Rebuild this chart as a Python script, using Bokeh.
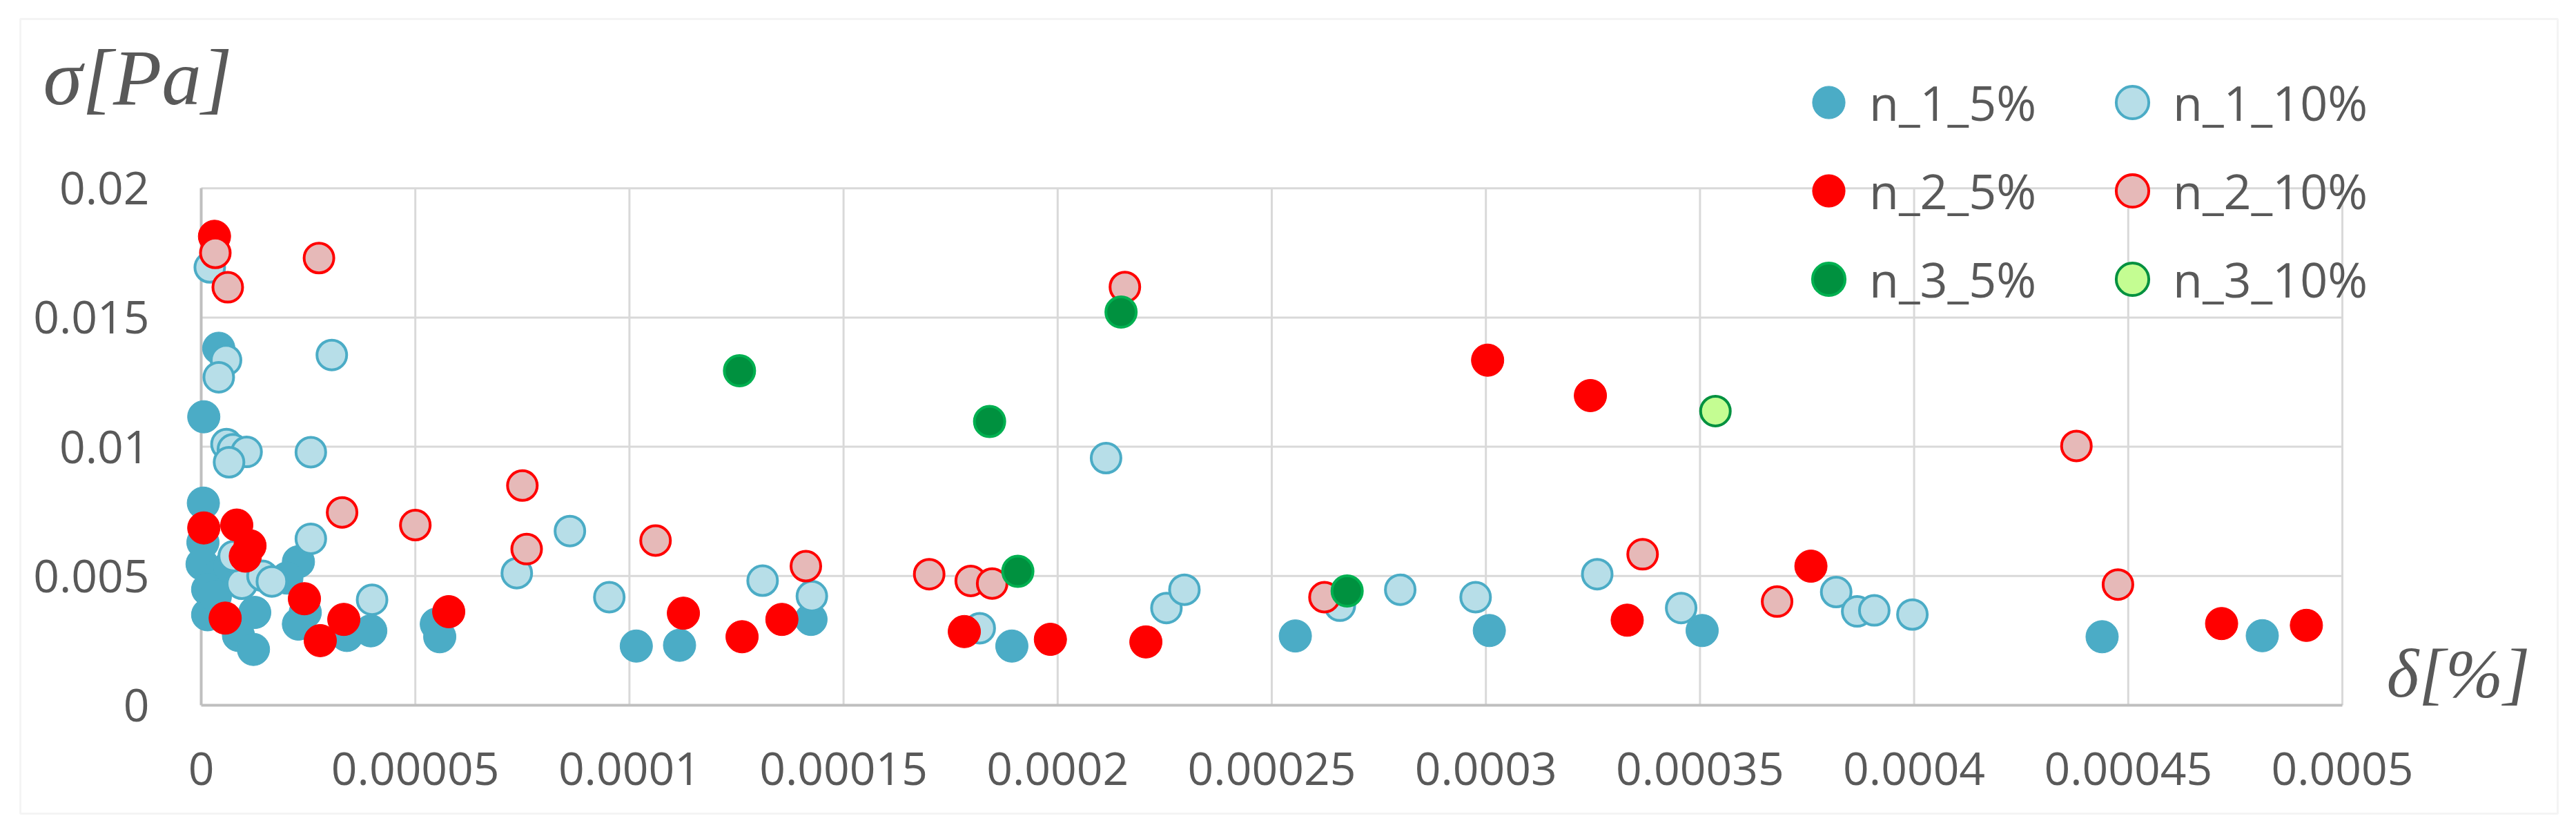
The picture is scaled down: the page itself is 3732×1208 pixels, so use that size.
from bokeh.plotting import figure
from bokeh.models import FixedTicker, Legend, LegendItem, Label, Range1d, BoxAnnotation
from bokeh.embed import file_html
from bokeh.resources import INLINE

# ---------------- data ----------------
x_ticks = [0, 0.00005, 0.0001, 0.00015, 0.0002, 0.00025, 0.0003, 0.00035, 0.0004, 0.00045, 0.0005]
x_tick_labels = ["0", "0.00005", "0.0001", "0.00015", "0.0002", "0.00025", "0.0003",
                 "0.00035", "0.0004", "0.00045", "0.0005"]
y_ticks = [0, 0.005, 0.01, 0.015, 0.02]
y_tick_labels = ["0", "0.005", "0.01", "0.015", "0.02"]

series_names = ["n_1_5%", "n_1_10%", "n_2_5%", "n_2_10%", "n_3_5%", "n_3_10%"]

n1_5_x = [0.0000005, 0.0000004, 0.0000002, 0.0000039, 0.0000015, 0.0000015, 0.0000033, 0.0000066,
          0.0000125, 0.0000087, 0.0000122, 0.0000227, 0.000020, 0.0000243, 0.0000227, 0.000034,
          0.0000396, 0.0000041, 0.0000006, 0.0000549, 0.0000557, 0.0001016, 0.0001117, 0.0001424,
          0.0001893, 0.0002555, 0.0003008, 0.0003505, 0.0004439, 0.0004813]
n1_5_y = [0.00782, 0.0063, 0.00546, 0.00501, 0.00448, 0.0035, 0.00421, 0.00537,
          0.00359, 0.0027, 0.00216, 0.00555, 0.00492, 0.00359, 0.00314, 0.0027,
          0.00288, 0.01381, 0.01116, 0.00314, 0.00265, 0.00229, 0.00232, 0.00332,
          0.00229, 0.00268, 0.00289, 0.00289, 0.00265, 0.00269]

n1_10_x = [0.000002, 0.0000058, 0.0000041, 0.0000305, 0.0000059, 0.0000074, 0.0000106, 0.0000065,
           0.0000256, 0.0000256, 0.0000095, 0.0000143, 0.0000165, 0.0000076, 0.0000399, 0.0000737,
           0.0000861, 0.0000953, 0.0001311, 0.0001426, 0.0001818, 0.0002113, 0.0002254, 0.0002296,
           0.0002659, 0.00028, 0.0002976, 0.000326, 0.0003456, 0.0003818, 0.0003867, 0.0003907,
           0.0003996]
n1_10_y = [0.01694, 0.01335, 0.01269, 0.01355, 0.0101, 0.0099, 0.0098, 0.0094,
           0.00979, 0.00644, 0.0047, 0.00501, 0.00479, 0.00577, 0.00408, 0.00511,
           0.00674, 0.00418, 0.00482, 0.00422, 0.00298, 0.00956, 0.00376, 0.00447,
           0.00385, 0.00447, 0.00418, 0.00507, 0.00376, 0.00438, 0.00363, 0.00367,
           0.00351]

n2_5_x = [0.0000031, 0.0000006, 0.0000083, 0.0000114, 0.0000103, 0.0000056, 0.0000241, 0.0000278,
          0.0000333, 0.0000578, 0.0001126, 0.0001263, 0.0001356, 0.0001782, 0.0001983, 0.0002206,
          0.0003004, 0.0003244, 0.000333, 0.0003759, 0.0004718, 0.0004916]
n2_5_y = [0.01814, 0.00686, 0.00697, 0.00617, 0.00577, 0.00337, 0.00412, 0.0025,
          0.00332, 0.00362, 0.00356, 0.00265, 0.00332, 0.00285, 0.00255, 0.00245,
          0.01335, 0.01198, 0.00329, 0.00538, 0.00316, 0.00309]

n2_10_x = [0.0000033, 0.0000062, 0.0000275, 0.0000329, 0.00005, 0.000075, 0.000076, 0.0001061,
           0.0001412, 0.00017, 0.0001797, 0.0001847, 0.0002157, 0.0002623, 0.0003366, 0.000368,
           0.0004379, 0.0004476]
n2_10_y = [0.0175, 0.01617, 0.0173, 0.00746, 0.00697, 0.0085, 0.00604, 0.00637,
           0.00538, 0.00507, 0.00481, 0.00471, 0.01618, 0.00418, 0.00584, 0.00401,
           0.01003, 0.00467]

n3_5_x = [0.0001257, 0.0001841, 0.0001907, 0.0002148, 0.0002676]
n3_5_y = [0.01294, 0.01098, 0.00518, 0.01521, 0.00442]

n3_10_x = [0.0003536]
n3_10_y = [0.01138]

# ---------------- layout constants (pixels -> data) ----------------
PX_X = 0.00005 / 310.2      # data units per pixel, x
PX_Y = 0.005 / 187.2        # data units per pixel, y
X0, Y0 = 291, 1021          # page position of the origin
OFF = 0                     # page position of the canvas
W, H = 3716, 1192

TEXT = "#595959"
FONT = "Open Sans"

p = figure(width=W, height=H,
           x_range=Range1d((OFF - X0) * PX_X, (OFF + W - X0) * PX_X),
           y_range=Range1d((Y0 - OFF - H) * PX_Y, (Y0 - OFF) * PX_Y),
           output_backend="svg", toolbar_location=None,
           min_border_left=0, min_border_right=0, min_border_top=0, min_border_bottom=0)
p.background_fill_color = "white"
p.border_fill_color = "white"
p.outline_line_color = None
p.xgrid.visible = False
p.ygrid.visible = False

# outer chart border
p.add_layout(BoxAnnotation(left=(29 - X0) * PX_X, right=(3705 - X0) * PX_X,
                           top=(Y0 - 27) * PX_Y, bottom=(Y0 - 1178) * PX_Y,
                           fill_alpha=0, line_color="#d9d9d9", line_width=3, level="underlay"))

# gridlines limited to the plotting box
x_lo, x_hi = x_ticks[0], x_ticks[-1]
y_lo, y_hi = y_ticks[0], y_ticks[-1]
p.segment(x0=x_ticks[1:], y0=[y_lo] * (len(x_ticks) - 1), x1=x_ticks[1:], y1=[y_hi] * (len(x_ticks) - 1),
          line_color="#d9d9d9", line_width=3, level="underlay")
p.segment(x0=[x_lo] * (len(y_ticks) - 1), y0=y_ticks[1:], x1=[x_hi] * (len(y_ticks) - 1), y1=y_ticks[1:],
          line_color="#d9d9d9", line_width=3, level="underlay")

p.xaxis.ticker = FixedTicker(ticks=x_ticks)
p.yaxis.ticker = FixedTicker(ticks=y_ticks)
p.xaxis.major_label_overrides = dict(zip(x_ticks, x_tick_labels))
p.yaxis.major_label_overrides = dict(zip(y_ticks, y_tick_labels))
p.xaxis.fixed_location = 0
p.yaxis.fixed_location = 0
p.xaxis.bounds = (x_lo, x_hi)
p.yaxis.bounds = (y_lo, y_hi)

for ax in (p.xaxis[0], p.yaxis[0]):
    ax.level = "underlay"
    ax.axis_line_color = "#bfbfbf"
    ax.axis_line_width = 4
    ax.major_tick_line_color = None
    ax.minor_tick_line_color = None
    ax.major_tick_out = 0
    ax.major_tick_in = 0
    ax.minor_tick_out = 0
    ax.minor_tick_in = 0
    ax.major_label_text_font = FONT
    ax.major_label_text_font_size = "66px"
    ax.major_label_text_color = TEXT
p.xaxis.major_label_standoff = 68
p.yaxis.major_label_standoff = 75

r1 = p.scatter(n1_5_x, n1_5_y, size=47, fill_color="#4bacc6", line_color="#4bacc6", line_width=1)
r2 = p.scatter(n1_10_x, n1_10_y, size=43, fill_color="#b7dee8", line_color="#4bacc6", line_width=4)
r3 = p.scatter(n2_5_x, n2_5_y, size=47, fill_color="#ff0000", line_color="#ff0000", line_width=1)
r4 = p.scatter(n2_10_x, n2_10_y, size=43, fill_color="#e6b9b8", line_color="#ff0000", line_width=4)
r5 = p.scatter(n3_5_x, n3_5_y, size=44, fill_color="#00913f", line_color="#00b050", line_width=4)
r6 = p.scatter(n3_10_x, n3_10_y, size=43, fill_color="#c4fd92", line_color="#00913f", line_width=4)
renderers = [r1, r2, r3, r4, r5, r6]

order = [0, 2, 4, 1, 3, 5]
items = [LegendItem(label=series_names[i], renderers=[renderers[i]]) for i in order]
legend = Legend(items=items, location=(2590 - OFF, (OFF + H) - 463), orientation="vertical", ncols=2,
                glyph_width=118, glyph_height=118, label_standoff=0,
                label_width=312, label_height=118, spacing=10, padding=0, margin=0,
                border_line_color=None, background_fill_alpha=0,
                label_text_font=FONT, label_text_font_size="70px", label_text_color=TEXT)
p.add_layout(legend)

p.add_layout(Label(x=(62 - X0) * PX_X, y=(Y0 - 112) * PX_Y, text="σ[Pa]", text_font="Liberation Serif",
                   text_font_style="italic", text_font_size="115px", text_color=TEXT,
                   text_baseline="middle"))
p.add_layout(Label(x=(3561 - X0) * PX_X, y=(Y0 - 975) * PX_Y, text="δ[%]", text_font="Liberation Serif",
                   text_font_style="italic", text_font_size="100px", text_color=TEXT,
                   text_align="center", text_baseline="middle"))

open("out.html", "w").write(file_html(p, INLINE))
